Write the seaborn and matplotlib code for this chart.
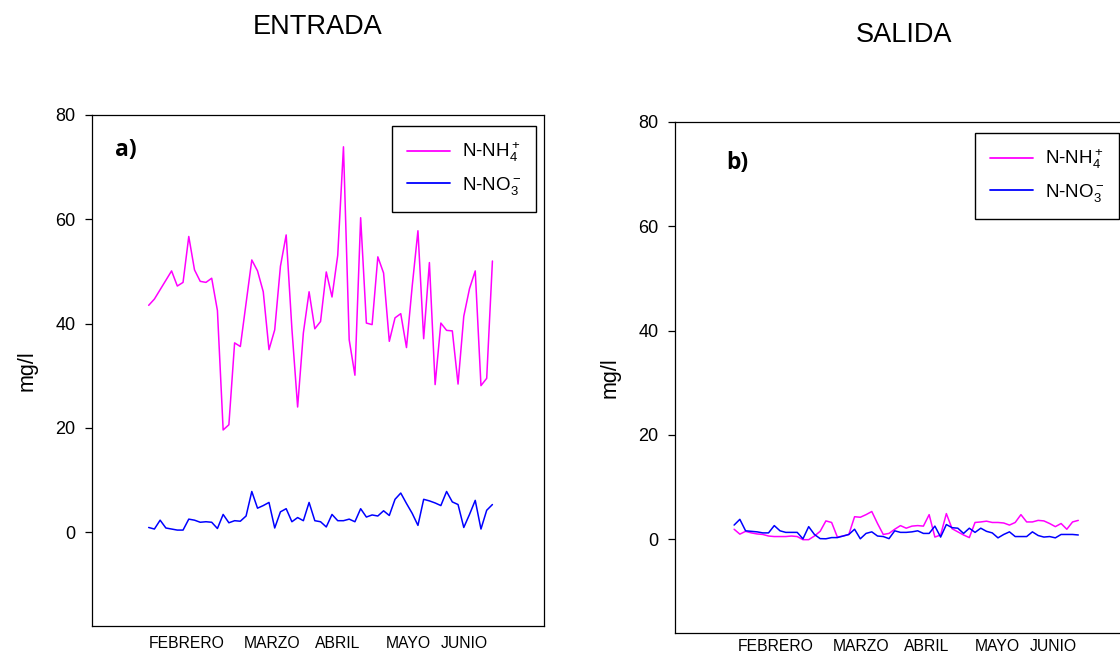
import numpy as np
import pandas as pd
import seaborn as sns
import matplotlib
matplotlib.use("Agg")
import matplotlib.pyplot as plt

# ---------------- data ----------------
ent_nh4 = [43.5, 44.7, 46.5, 48.3, 50.1, 47.2, 47.9, 56.7, 50.3, 48.1,
           47.9, 48.7, 42.5, 19.6, 20.6, 36.3, 35.6, 43.9, 52.2, 50.1,
           46.1, 35.0, 38.8, 51.0, 57.0, 39.0, 24.0, 38.2, 46.1, 39.0,
           40.4, 49.9, 45.1, 53.1, 73.9, 36.9, 30.1, 60.3, 40.1, 39.8,
           52.8, 49.7, 36.6, 41.1, 41.9, 35.4, 47.2, 57.8, 37.1, 51.7,
           28.3, 40.1, 38.7, 38.6, 28.4, 41.4, 46.7, 50.1, 28.1, 29.5,
           52.0]
ent_no3 = [0.9, 0.6, 2.3, 0.8, 0.6, 0.4, 0.4, 2.5, 2.3, 1.9,
           2.0, 1.9, 0.7, 3.4, 1.8, 2.2, 2.1, 3.1, 7.8, 4.6,
           5.1, 5.7, 0.8, 3.9, 4.5, 2.0, 2.8, 2.2, 5.7, 2.2,
           2.0, 1.0, 3.4, 2.2, 2.2, 2.5, 2.0, 4.5, 2.9, 3.3,
           3.1, 4.1, 3.2, 6.3, 7.5, 5.5, 3.6, 1.3, 6.3, 6.0,
           5.6, 5.1, 7.8, 5.8, 5.3, 0.9, 3.4, 6.1, 0.6, 4.2,
           5.3]
sal_nh4 = [1.9, 0.96, 1.5, 1.2, 1.0, 0.9, 0.6, 0.5, 0.5, 0.5,
           0.6, 0.5, -0.1, -0.1, 0.6, 1.5, 3.5, 3.2, 0.4, 0.6,
           0.9, 4.3, 4.2, 4.7, 5.3, 3.0, 0.9, 1.1, 1.9, 2.6,
           2.1, 2.5, 2.6, 2.5, 4.7, 0.4, 0.8, 4.9, 2.0, 1.4,
           0.8, 0.3, 3.2, 3.3, 3.45, 3.2, 3.2, 3.1, 2.7, 3.2,
           4.7, 3.3, 3.3, 3.6, 3.5, 3.0, 2.4, 3.0, 1.9, 3.3,
           3.6]
sal_no3 = [2.7, 3.8, 1.6, 1.5, 1.4, 1.2, 1.2, 2.6, 1.6, 1.3,
           1.3, 1.3, 0.06, 2.4, 0.9, 0.1, 0.07, 0.3, 0.3, 0.6,
           0.9, 1.9, 0.07, 1.1, 1.4, 0.6, 0.5, 0.1, 1.6, 1.3,
           1.3, 1.4, 1.6, 1.1, 1.1, 2.5, 0.4, 2.8, 2.2, 2.1,
           1.1, 2.1, 1.3, 2.1, 1.5, 1.2, 0.25, 0.9, 1.4, 0.5,
           0.5, 0.5, 1.4, 0.7, 0.4, 0.5, 0.25, 0.9, 0.9, 0.9,
           0.8]

months = ["FEBRERO", "MARZO", "ABRIL", "MAYO", "JUNIO"]
month_pos_a = [6.6, 21.6, 33.0, 45.3, 55.1]
month_pos_b = [7.3, 22.1, 33.6, 45.8, 55.6]
series_names = [r"N-NH$_4^+$", r"N-NO$_3^-$"]
yticks = [0, 20, 40, 60, 80]

# ---------------- style ----------------
sns.set_theme(style="white")
plt.rcParams["font.family"] = ["Liberation Sans", "DejaVu Sans"]
plt.rcParams["mathtext.fontset"] = "custom"
plt.rcParams["mathtext.rm"] = "Liberation Sans"
plt.rcParams["mathtext.it"] = "Liberation Sans:italic"
plt.rcParams["mathtext.bf"] = "Liberation Sans:bold"
for key in ["text.color", "axes.labelcolor", "xtick.color", "ytick.color",
            "axes.edgecolor", "legend.labelcolor"]:
    plt.rcParams[key] = "black"

palette = {series_names[0]: "#FF00FF", series_names[1]: "#0000FF"}

fig = plt.figure(figsize=(11.2, 6.53), dpi=100)
ax_a = fig.add_axes([0.0821, 0.0413, 0.4036, 0.7826])
ax_b = fig.add_axes([0.6027, 0.0306, 0.4036, 0.7826])


def make_df(nh4, no3):
    n = len(nh4)
    return pd.DataFrame({
        "x": list(range(n)) * 2,
        "y": list(nh4) + list(no3),
        "serie": [series_names[0]] * n + [series_names[1]] * n,
    })


panels = [
    (ax_a, make_df(ent_nh4, ent_no3), month_pos_a, (-9.9, 69.0), "a)", (0.051, 0.931), 7),
    (ax_b, make_df(sal_nh4, sal_no3), month_pos_b, (-10.3, 68.5), "b)", (0.114, 0.920), 4),
]

for ax, df, mpos, xl, tag, tagpos, xpad in panels:
    sns.lineplot(data=df, x="x", y="y", hue="serie", palette=palette,
                 estimator=None, sort=False, linewidth=1.1, ax=ax)
    ax.set_xlim(*xl)
    ax.set_ylim(-18, 80)
    ax.set_yticks(yticks)
    ax.set_xticks(mpos)
    ax.set_xticklabels(months, fontsize=11.3)
    ax.tick_params(axis="x", length=0, pad=xpad, colors="black")
    ax.tick_params(axis="y", direction="out", length=5, width=0.9,
                   labelsize=13, pad=7, left=True, colors="black")
    ax.set_xlabel("")
    ax.set_ylabel("mg/l", fontsize=15.5, color="black")
    ax.yaxis.set_label_coords(-0.12, 0.5)
    for s in ax.spines.values():
        s.set_color("black")
        s.set_linewidth(0.9)
    ax.text(tagpos[0], tagpos[1], tag, transform=ax.transAxes,
            fontsize=16.5, fontweight="bold", color="black",
            family=["Open Sans", "DejaVu Sans"], ha="left", va="center")
    leg = ax.legend(loc="upper right", bbox_to_anchor=(0.982, 0.979),
                    borderaxespad=0, fontsize=13.5, frameon=True,
                    fancybox=False, framealpha=1, edgecolor="black",
                    handlelength=2.3, handletextpad=0.6, labelspacing=0.55,
                    borderpad=0.8, title=None)
    leg.get_frame().set_linewidth(1.0)
    for line in leg.get_lines():
        line.set_linewidth(1.3)
    for t in leg.get_texts():
        t.set_color("black")

fig.text(0.284, 0.959, "ENTRADA", fontsize=19.5, ha="center", va="center", color="black")
fig.text(0.807, 0.947, "SALIDA", fontsize=19.5, ha="center", va="center", color="black")

fig.savefig("out.png", dpi=100)
